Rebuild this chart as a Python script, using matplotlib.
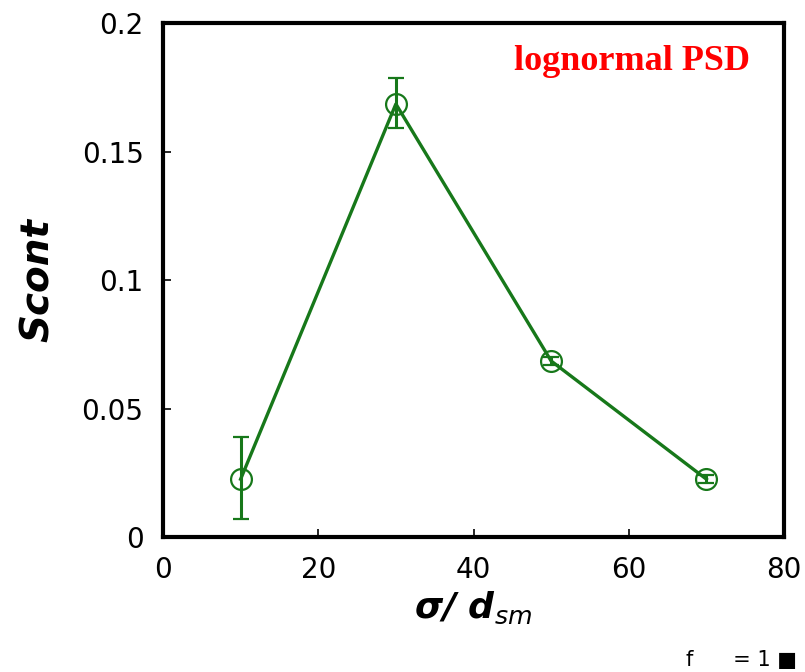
import matplotlib.pyplot as plt

sigma = [10, 30, 50, 70]
s_cont = [0.0225, 0.1685, 0.0685, 0.0225]
err_lo = [0.0155, 0.0095, 0.0015, 0.0015]
err_hi = [0.0165, 0.0100, 0.0015, 0.0015]

green = '#17781a'

fig = plt.figure(figsize=(8.05, 6.72), dpi=100)
ax = fig.add_axes([163/805, 1 - 537/672, (784-163)/805, (537-23)/672])

ax.errorbar(sigma, s_cont, yerr=[err_lo, err_hi], color=green, lw=2.4,
            marker='o', ms=15, mfc='none', mec=green, mew=1.6,
            elinewidth=2.2, capsize=6, capthick=2.2)

ax.set_xlim(0, 80)
ax.set_ylim(0, 0.2)
ax.set_xticks([0, 20, 40, 60, 80])
ax.set_yticks([0, 0.05, 0.1, 0.15, 0.2])
ax.set_xticklabels(['0', '20', '40', '60', '80'])
ax.set_yticklabels(['0', '0.05', '0.1', '0.15', '0.2'])
ax.tick_params(direction='in', length=6, width=1.2, labelsize=20, pad=14)
for sp in ax.spines.values():
    sp.set_linewidth(3)

ax.set_xlabel('σ/ d$_{sm}$', fontsize=26, fontweight='bold', fontstyle='italic', labelpad=4)
ax.set_ylabel('Scont', fontsize=28, fontweight='bold', fontstyle='italic', labelpad=18)

ax.text(0.945, 0.925, 'lognormal PSD', transform=ax.transAxes, ha='right', va='center',
        color='red', fontsize=26, fontweight='bold', family='Liberation Serif')

fig.text(686/805, 2/672, 'f      = 1 ■', fontsize=15, va='bottom', ha='left')

fig.savefig('out.png', dpi=100)
